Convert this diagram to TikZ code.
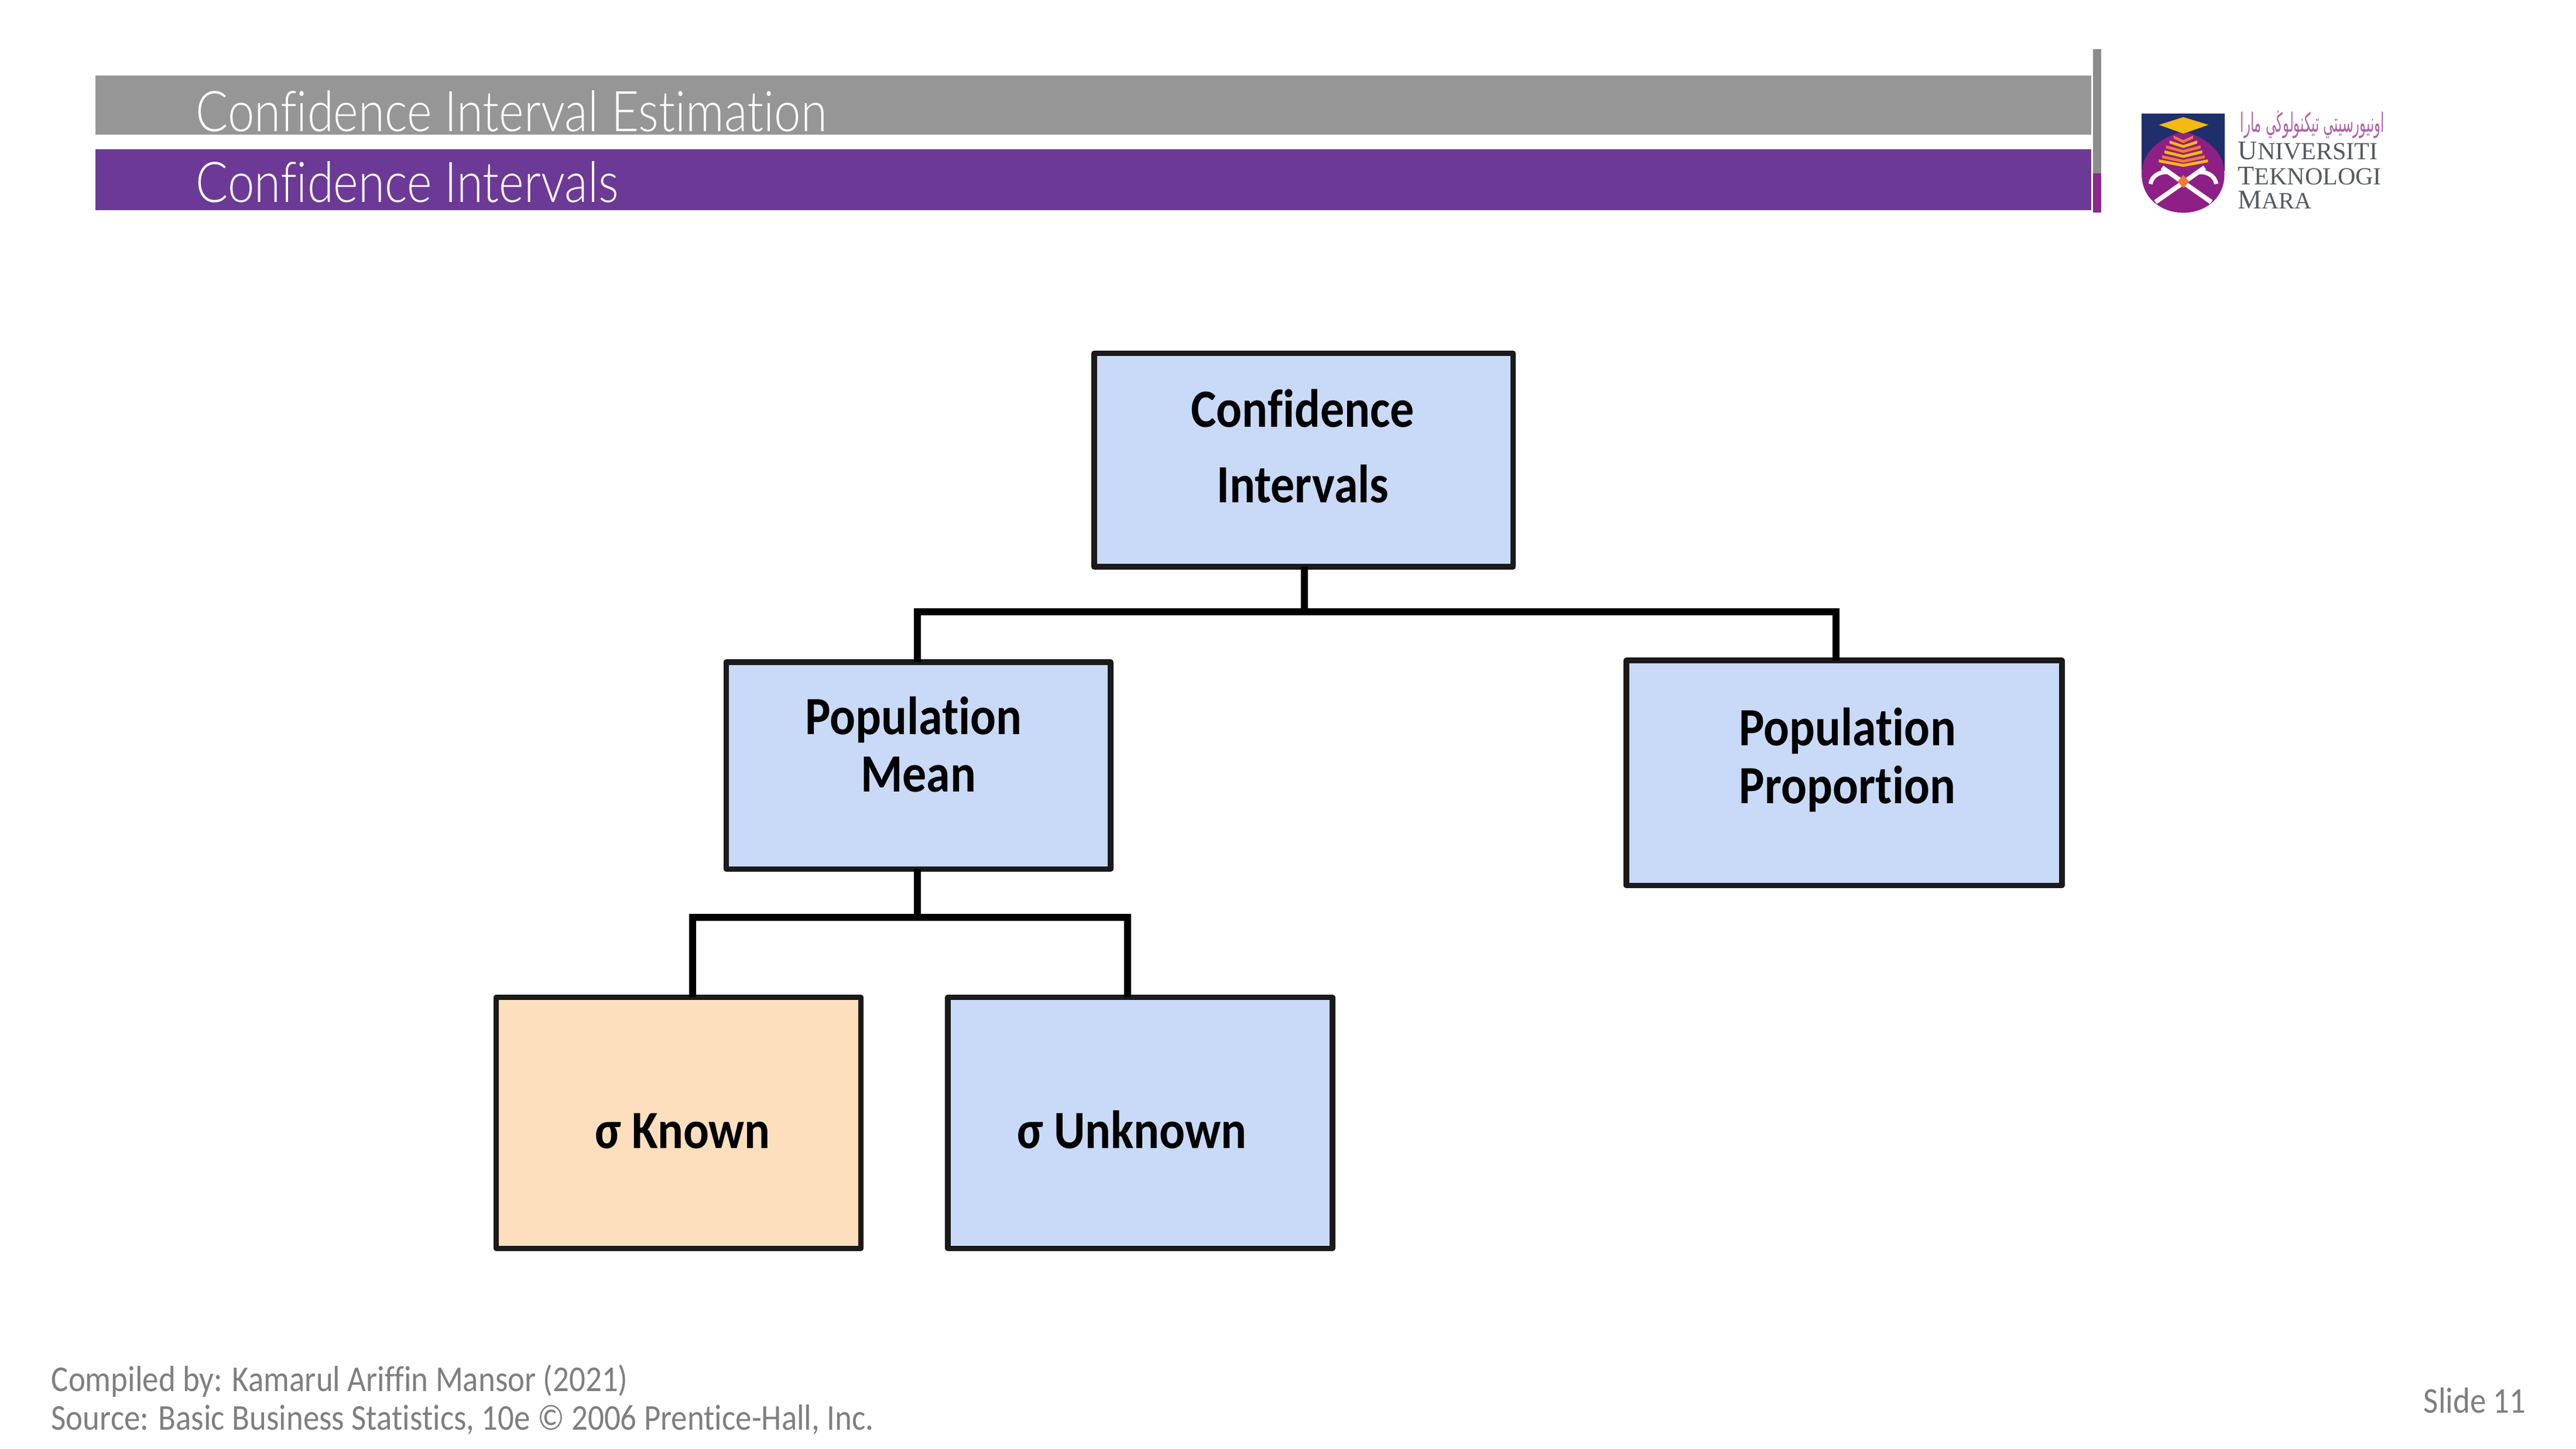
\documentclass[tikz,border=0pt]{standalone}
\usepackage{fontspec}
\setmainfont[Ligatures=NoCommon]{Carlito}
\newfontfamily\lightf[Ligatures=NoCommon]{Lato Light}
\newfontfamily\serifl{Liberation Serif}
\newfontfamily\arabicfont[Script=Arabic]{DejaVu Sans}
\TeXXeTstate=1
\usetikzlibrary{calc}
\definecolor{bargray}{HTML}{969696}
\definecolor{barpurple}{HTML}{6C3A96}
\definecolor{vgray}{HTML}{8C8C8C}
\definecolor{vpurple}{HTML}{8B2A8B}
\definecolor{boxblue}{HTML}{C9DAF8}
\definecolor{boxorange}{HTML}{FDDFBE}
\definecolor{edge}{HTML}{1A1A1A}
\definecolor{foot}{HTML}{7F7F7F}
\definecolor{logonavy}{HTML}{1F2F6B}
\definecolor{logopurple}{HTML}{8E1F86}
\definecolor{logoyellow}{HTML}{F6B90F}
\definecolor{logoorange}{HTML}{EE7B32}
\definecolor{logotext}{HTML}{555A60}
\newcommand{\uu}{0.70153pt}
\newcommand{\lbl}[1]{\scalebox{0.89}[1]{#1}}
\newcommand{\ttxt}[1]{\scalebox{0.85}[1]{#1}}
\tikzset{
  x=0.70153pt, y=-0.70153pt,
  box/.style={draw=edge, line width=2.4pt, inner sep=0pt, outer sep=0pt, rectangle, line join=round},
  lab/.style={inner sep=0pt, anchor=base, font=\fontsize{23}{23}\selectfont\bfseries, text=black},
  conn/.style={draw=black, line width=3pt},
  ttl/.style={inner sep=0pt, anchor=base west, text=white, font=\lightf\fontsize{24}{24}\selectfont},
  footn/.style={inner sep=0pt, anchor=base west, text=foot, font=\fontsize{15.5}{15.5}\selectfont},
  logot/.style={inner sep=0pt, anchor=base west, text=logotext, font=\serifl},
}
\begin{document}
\begin{tikzpicture}
\useasboundingbox (0,0) rectangle (1568,881.8);
\fill[white] (0,0) rectangle (1568,881.8);
% header bars
\fill[bargray] (58,46) rectangle (1273,82);
\fill[barpurple] (58,91) rectangle (1273,128);
\fill[vgray] (1274,30) rectangle (1279,105.5);
\fill[vpurple] (1274,105.5) rectangle (1279,129.5);
\node[ttl] (t1) at (119,80) {\ttxt{Confidence Interval Estimation}};
\node[ttl] (t2) at (119,123) {\ttxt{Confidence Intervals}};
% boxes
\node[box, fill=boxblue, minimum width=255*\uu, minimum height=130*\uu] (ci) at (793.5,280) {};
\node[box, fill=boxblue, minimum width=234*\uu, minimum height=126*\uu] (pm) at (559,466) {};
\node[box, fill=boxblue, minimum width=265*\uu, minimum height=137*\uu] (pp) at (1122.5,470.5) {};
\node[box, fill=boxorange, minimum width=222*\uu, minimum height=153*\uu] (kn) at (413,683.5) {};
\node[box, fill=boxblue, minimum width=234*\uu, minimum height=153*\uu] (un) at (694,683.5) {};
% labels
\node[lab] (ci1) at (793,260) {\lbl{Confidence}};
\node[lab] (ci2) at (793,306) {\lbl{Intervals}};
\node[lab] (pm1) at (556,447) {\lbl{Population}};
\node[lab] (pm2) at (559,482) {\lbl{Mean}};
\node[lab] (pp1) at (1124.5,454) {\lbl{Population}};
\node[lab] (pp2) at (1124.5,489) {\lbl{Proportion}};
\node[lab] (kn1) at (415.5,699) {\lbl{σ Known}};
\node[lab] (un1) at (689,699) {\lbl{σ Unknown}};
% connectors
\coordinate (j1) at (794,372.5);
\coordinate (j1l) at (558.5,372.5);
\coordinate (j1r) at (1117.5,372.5);
\coordinate (j2) at (558.5,558.5);
\coordinate (j2l) at (421.5,558.5);
\coordinate (j2r) at (686.5,558.5);
\draw[conn] (ci.south -| j1) -- (j1);
\draw[conn, line cap=rect] (j1l) -- (j1r);
\draw[conn] (j1l) -- (pm.north -| j1l);
\draw[conn] (j1r) -- (pp.north -| j1r);
\draw[conn] (pm.south -| j2) -- (j2);
\draw[conn, line cap=rect] (j2l) -- (j2r);
\draw[conn] (j2l) -- (kn.north -| j2l);
\draw[conn] (j2r) -- (un.north -| j2r);
% footer
\node[footn] (f1) at (31,847) {\scalebox{0.885}[1]{Compiled by: Kamarul Ariffin Mansor (2021)}};
\node[footn] (f2) at (31,870.5) {\scalebox{0.885}[1]{Source: Basic Business Statistics, 10e © 2006 Prentice-Hall, Inc.}};
\node[footn] (f3) at (1475,860) {\scalebox{0.885}[1]{Slide 11}};
% logo
\fill[logonavy] (1303.6,69) rectangle (1354,104);
\fill[logopurple] (1329,80) .. controls (1345,84) and (1354,94) .. (1354,106)
  .. controls (1354,121) and (1342,129.5) .. (1329,129.5)
  .. controls (1316,129.5) and (1303.6,121) .. (1303.6,106)
  .. controls (1303.6,94) and (1313,84) .. (1329,80) -- cycle;
\fill[logoyellow] (1329,71.3) -- (1344.3,76) -- (1329,81.3) -- (1314.1,76) -- cycle;
\foreach \yy/\ww/\cc in {82.5/6/logoorange,85.5/8.5/logoyellow,88.5/10.5/logoorange,91.5/11.5/logoyellow,94.5/13/logoorange,97/15/logoyellow}{
  \fill[\cc] (1329-\ww,\yy) -- (1329,\yy+2.8) -- (1329+\ww,\yy) -- (1329+\ww,\yy+1.8) -- (1329,\yy+4.6) -- (1329-\ww,\yy+1.8) -- cycle;
}
\draw[white, line width=2pt] (1316,102) -- (1346,123);
\draw[white, line width=2pt] (1342,102) -- (1312,123);
\draw[white, line width=1.8pt] (1309,112) .. controls (1310,106) and (1316,104) .. (1321,105);
\draw[white, line width=1.8pt] (1349,112) .. controls (1348,106) and (1342,104) .. (1337,105);
\fill[logoorange] (1329,106.5) -- (1332.5,110.5) -- (1329,114.5) -- (1325.5,110.5) -- cycle;
\node[inner sep=0pt, anchor=west, text=logopurple!70] (ar) at (1363.5,76) {\resizebox{87.5\dimexpr\uu\relax}{13\dimexpr\uu\relax}{\arabicfont\beginR اونيورسيتي تيكنولوڬي مارا\endR}};
\node[logot] (l1) at (1362,97) {\fontsize{11.5}{11.5}\selectfont U\fontsize{10.5}{10.5}\selectfont NIVERSITI};
\node[logot] (l2) at (1362,112.5) {\fontsize{11.5}{11.5}\selectfont T\fontsize{10.5}{10.5}\selectfont EKNOLOGI};
\node[logot] (l3) at (1362,127) {\fontsize{11.5}{11.5}\selectfont M\fontsize{10}{10}\selectfont ARA};
\end{tikzpicture}
\end{document}
